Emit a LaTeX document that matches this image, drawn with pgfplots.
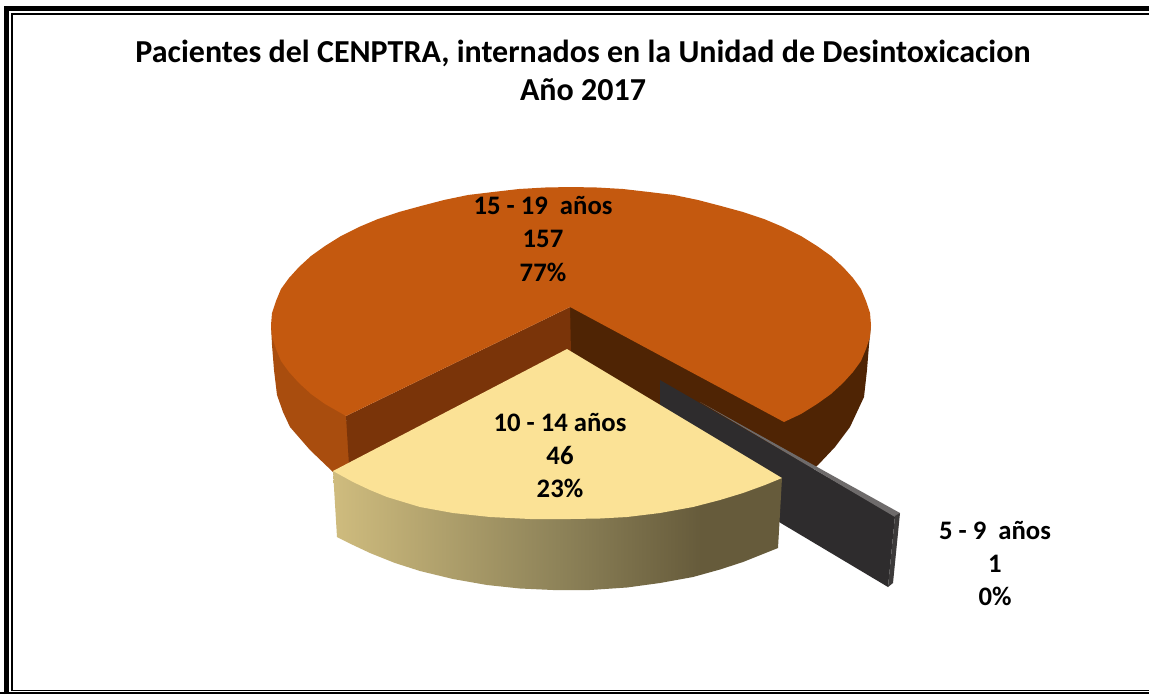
\documentclass[border=0pt]{standalone}
\usepackage{fontspec}
\setmainfont{Carlito}
\usepackage{pgfplots}
\pgfplotsset{compat=1.18}

\definecolor{orangetop}{HTML}{C4590F}
\definecolor{orangeside}{HTML}{A94D0E}
\definecolor{orangecut}{HTML}{7A3409}
\definecolor{orangedark}{HTML}{4F2404}
\definecolor{yellowtop}{HTML}{FBE296}
\definecolor{bar}{HTML}{2E2C2D}
\definecolor{bartop}{HTML}{6E6B6B}
\definecolor{baredge}{HTML}{3C3A3A}
\definecolor{yc1}{HTML}{CFBC7E}
\definecolor{yc2}{HTML}{8E8359}
\definecolor{yc3}{HTML}{665B3B}

\pgfdeclarehorizontalshading{yellowside}{100bp}{
  color(0bp)=(yc1); color(25bp)=(yc1); color(50bp)=(yc2); color(66bp)=(yc3); color(100bp)=(yc3)}

\newcommand{\lab}[3]{\node[anchor=base,font=\fontsize{26.7}{26.7}\selectfont\bfseries] at (axis cs:#1,#2) {#3};}

\begin{document}
\begin{tikzpicture}
\begin{axis}[
  x=1pt, y=1pt,
  xmin=0, xmax=1149, ymin=0, ymax=694,
  y dir=reverse, hide axis, clip=true,
]
% hidden axis drops its box from the bounding box, so keep the full page with this
\addplot[fill=white, draw=none, mark=none] coordinates {(0,0) (1149,0) (1149,694) (0,694)};
% frame
\addplot[black, line width=5.5pt, mark=none] coordinates {(6.7,694) (6.7,8.3) (1149,8.3)};
\addplot[black, line width=1.5pt, mark=none] coordinates {(12,691) (12,14) (1149,14)};
\addplot[black, line width=1.4pt, mark=none] coordinates {(12,690.6) (1149,690.6)};
\addplot[black, line width=1.2pt, mark=none] coordinates {(0,693) (1149,693)};

% dark cut face and right wall
\addplot[fill=orangedark, draw=none, mark=none] coordinates {
  (570,307) (871,325) (869,345) (867,370) (864,397) (850,427) (835,447) (818,465)
  (780,500) (660,450) (570,352)};
% left wall
\addplot[fill=orangeside, draw=none, mark=none] coordinates {
  (271,325) (272,345) (274,370) (277,395) (283,412) (290,427) (310,450) (333,472)
  (353,465) (346,416)};
% left cut face
\addplot[fill=orangecut, draw=none, mark=none] coordinates {
  (570,307) (346,416) (349,465) (571,353)};
% orange top
\addplot[fill=orangetop, draw=none, mark=none] coordinates {
  (570,307) (784,422) (801,414) (817,404) (831,394) (843,383) (853,372) (861,361)
  (866,349) (870,337) (871,325) (870,313) (866,301) (861,289) (853,278) (843,267)
  (831,256) (817,246) (801,236) (783,227) (764,219) (743,212) (721,206) (698,200)
  (674,195) (649,192) (623,189) (597,187.5) (571,187) (545,187.5) (519,189) (493,192)
  (468,195) (444,200) (421,206) (399,212) (378,219) (359,227) (341,236) (325,246)
  (311,256) (299,267) (289,278) (281,289) (276,301) (272,313) (271,325) (272,337)
  (276,349) (281,361) (289,372) (299,383) (311,394) (325,404) (346,416)};

% 5 - 9 bar
\addplot[fill=bar, draw=none, mark=none] coordinates {
  (660,380) (895,516) (888,587) (660,451)};
\addplot[fill=bartop, draw=none, mark=none] coordinates {
  (700,402) (900,513) (895,517)};
\addplot[fill=baredge, draw=none, mark=none] coordinates {
  (900,513) (893,583) (888,587) (895,516)};

% yellow wall
\addplot[shade, shading=yellowside, draw=none, mark=none] coordinates {
  (333,471) (337,537) (353,545) (370,553) (395,563) (420,571) (453,579) (487,585)
  (520,588.5) (553,590) (590,590) (627,587.5) (660,583) (693,577) (720,569.5)
  (743,562) (778,548) (782,478) (600,500)};
% yellow top
\addplot[fill=yellowtop, draw=none, mark=none] coordinates {
  (567,349) (782,478) (765,485) (743,493) (720,500) (693,507) (660,513) (627,517)
  (600,518.5) (570,519) (530,519) (490,517) (453,513) (420,507) (387,497) (370,490)
  (353,482) (333,471)};

\node[anchor=base,font=\fontsize{32}{32}\selectfont\bfseries] at (axis cs:583,62) {Pacientes del CENPTRA, internados en la Unidad de Desintoxicacion};
\node[anchor=base,font=\fontsize{32}{32}\selectfont\bfseries] at (axis cs:583,100) {Año 2017};

\lab{543}{214}{15 - 19\ \ años}
\lab{543}{247}{157}
\lab{543}{281}{77\%}
\lab{560}{431}{10 - 14 años}
\lab{560}{464}{46}
\lab{560}{497}{23\%}
\lab{995}{539}{5 - 9\ \ años}
\lab{995}{572}{1}
\lab{995}{605}{0\%}
\end{axis}
\end{tikzpicture}
\end{document}
